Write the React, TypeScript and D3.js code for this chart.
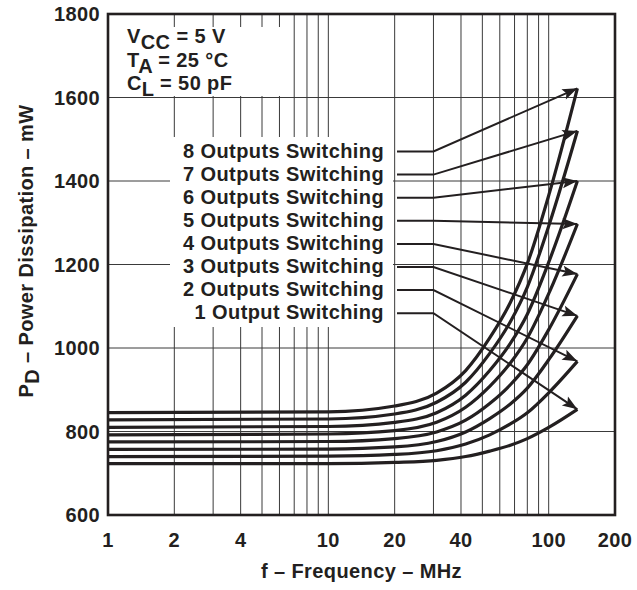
import * as d3 from "d3";

// frequency (MHz) sample points shared by every curve
const frequencies = [1, 10, 20, 31, 42, 54, 67, 80, 101, 135];

// power dissipation (mW), one array per curve
const out1 = [723, 723, 726, 731, 740, 753, 767, 783, 811, 853];
const out2 = [740, 741, 745, 754, 770, 792, 818, 845, 895, 968];
const out3 = [757, 758, 763, 776, 799, 831, 866, 904, 975, 1077];
const out4 = [775, 776, 783, 799, 827, 867, 912, 960, 1048, 1177];
const out5 = [792, 794, 802, 822, 858, 908, 964, 1024, 1135, 1297];
const out6 = [810, 812, 822, 845, 887, 946, 1011, 1081, 1211, 1400];
const out7 = [828, 830, 842, 870, 918, 987, 1063, 1146, 1299, 1520];
const out8 = [845, 847, 861, 892, 946, 1024, 1109, 1202, 1373, 1622];

const seriesTopDown = [out8, out7, out6, out5, out4, out3, out2, out1];
const labels = [
  "8 Outputs Switching",
  "7 Outputs Switching",
  "6 Outputs Switching",
  "5 Outputs Switching",
  "4 Outputs Switching",
  "3 Outputs Switching",
  "2 Outputs Switching",
  "1 Output Switching",
];

const xTicks = [1, 2, 4, 10, 20, 40, 100, 200];
const xGrid = [2, 3, 4, 5, 6, 7, 8, 9, 10, 20, 30, 40, 50, 60, 70, 80, 90, 100];
const yTicks = [600, 800, 1000, 1200, 1400, 1600, 1800];
const yGrid = [800, 1000, 1200, 1400, 1600];

const width = 637;
const height = 590;
const left = 108;
const right = 615;
const top = 14;
const bottom = 515;
const ink = "#231f20";
const font = "'Liberation Sans', Arial, Helvetica, sans-serif";

export default function App() {
  const x = d3.scaleLog().domain([1, 200]).range([left, right]);
  const y = d3.scaleLinear().domain([600, 1800]).range([bottom, top]);

  const line = d3
    .line<number>()
    .x((_, i) => x(frequencies[i]))
    .y((d) => y(d))
    .curve(d3.curveMonotoneX);

  const textStyle = {
    fontFamily: font,
    fontWeight: 700,
    fontSize: 20,
    letterSpacing: 0.4,
    fill: ink,
  } as const;

  const labelX = 384;
  const connectorStart = 397;
  const kinkX = x(30);
  const firstBaseline = 157.5;
  const step = 23.1;
  const lastF = frequencies[frequencies.length - 1];

  return (
    <svg
      width={width}
      height={height}
      style={{ position: "absolute", left: 0, top: 0, background: "#fff" }}
    >
      <defs>
        <marker
          id="head"
          markerUnits="userSpaceOnUse"
          markerWidth="18"
          markerHeight="14"
          viewBox="-16 -7 18 14"
          refX="0"
          refY="0"
          orient="auto"
        >
          <path d="M0,0 L-15,-5.5 L-12,0 L-15,5.5 Z" fill={ink} />
        </marker>
      </defs>

      {/* grid */}
      {xGrid.map((f) => (
        <line key={`gx-${f}`} x1={x(f)} x2={x(f)} y1={top} y2={bottom} stroke="#3a3a3a" strokeWidth={1} />
      ))}
      {yGrid.map((v) => (
        <line key={`gy-${v}`} x1={left} x2={right} y1={y(v)} y2={y(v)} stroke="#3a3a3a" strokeWidth={1} />
      ))}

      {/* white panels behind the notes */}
      <rect x={left + 1} y={27} width={172} height={69} fill="#fff" />
      <rect x={170} y={137} width={223} height={190} fill="#fff" />

      {/* curves */}
      {seriesTopDown.map((s, i) => (
        <path key={`c-${i}`} d={line(s) ?? ""} fill="none" stroke={ink} strokeWidth={3.2} strokeLinejoin="round" />
      ))}

      {/* labels and leaders */}
      {labels.map((lab, i) => {
        const base = firstBaseline + i * step;
        const ly = base - 6;
        const s = seriesTopDown[i];
        const tipX = x(lastF);
        const tipY = y(s[s.length - 1]);
        return (
          <g key={`l-${i}`}>
            <text x={labelX} y={base} textAnchor="end" style={textStyle}>
              {lab}
            </text>
            <path
              d={`M${connectorStart},${ly} L${kinkX},${ly} L${tipX},${tipY}`}
              fill="none"
              stroke={ink}
              strokeWidth={2}
              markerEnd="url(#head)"
            />
          </g>
        );
      })}

      {/* frame */}
      <rect x={left} y={top} width={right - left} height={bottom - top} fill="none" stroke={ink} strokeWidth={2.6} />

      {/* y ticks */}
      {yTicks.map((v) => (
        <text key={`ty-${v}`} x={100} y={y(v)} dy={7} textAnchor="end" style={textStyle}>
          {v}
        </text>
      ))}
      {/* x ticks */}
      {xTicks.map((f) => (
        <text key={`tx-${f}`} x={x(f)} y={547} textAnchor="middle" style={textStyle}>
          {f}
        </text>
      ))}

      {/* axis titles */}
      <text x={(left + right) / 2} y={578} textAnchor="middle" style={textStyle}>
        f – Frequency – MHz
      </text>
      <text transform="translate(33,251) rotate(-90)" textAnchor="middle" style={textStyle}>
        <tspan>P</tspan>
        <tspan dy={6}>D</tspan>
        <tspan dy={-6}>{" – Power Dissipation – mW"}</tspan>
      </text>

      {/* conditions */}
      <text x={127} y={43} style={textStyle}>
        <tspan>V</tspan>
        <tspan dy={6}>CC</tspan>
        <tspan dy={-6}>{" = 5 V"}</tspan>
      </text>
      <text x={127} y={67} style={textStyle}>
        <tspan>T</tspan>
        <tspan dy={6}>A</tspan>
        <tspan dy={-6}>{" = 25 °C"}</tspan>
      </text>
      <text x={127} y={90} style={textStyle}>
        <tspan>C</tspan>
        <tspan dy={6}>L</tspan>
        <tspan dy={-6}>{" = 50 pF"}</tspan>
      </text>
    </svg>
  );
}
